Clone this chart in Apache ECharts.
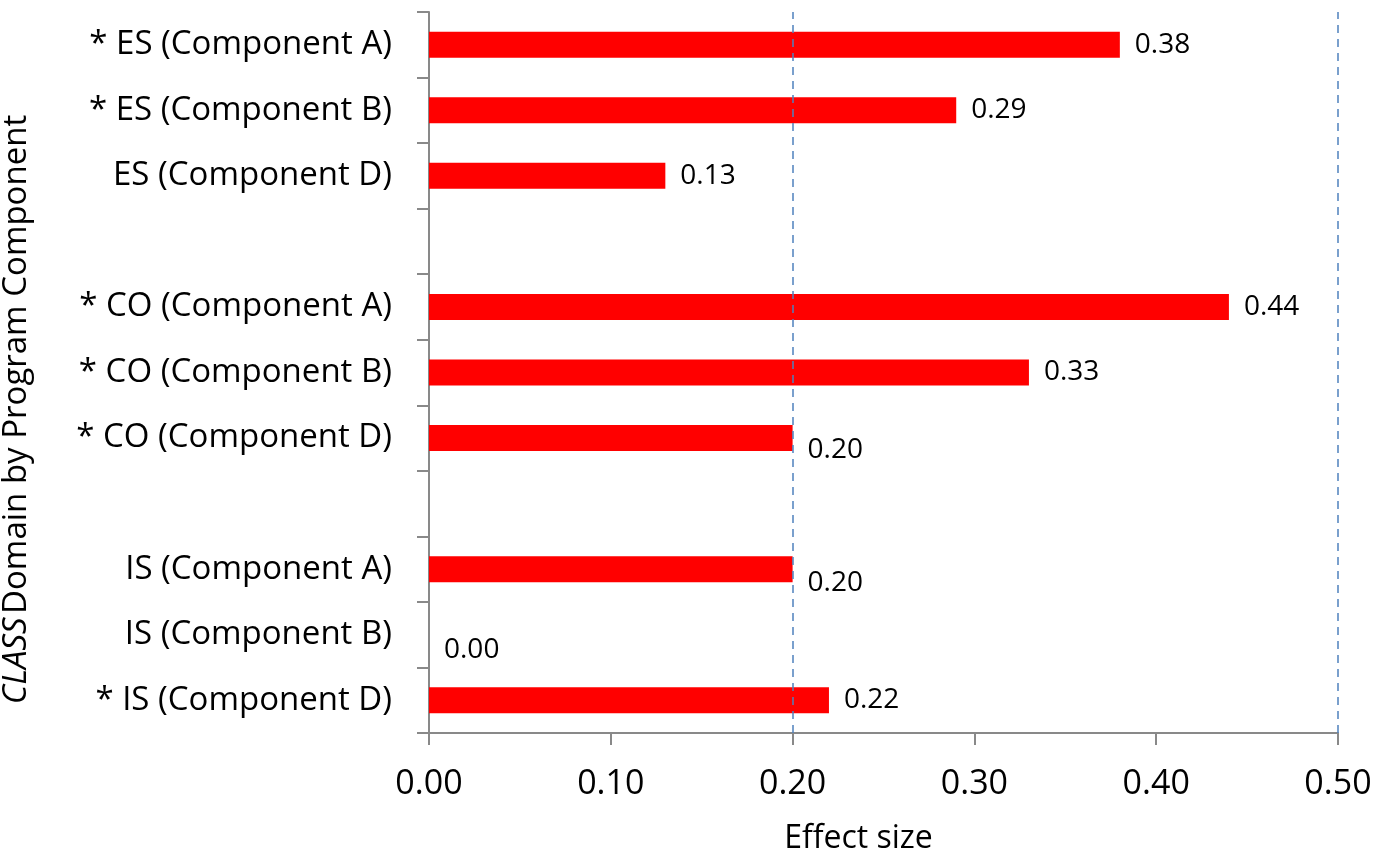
<!DOCTYPE html>
<html><head><meta charset="utf-8">
<script src="https://cdn.jsdelivr.net/npm/echarts@6/dist/echarts.min.js"></script>
<style>html,body{margin:0;padding:0;background:#fff}#c{width:1377px;height:855px}</style>
</head><body><div id="c"></div>
<script>
const categories = ['* ES (Component A)','* ES (Component B)','ES (Component D)','',
  '* CO (Component A)','* CO (Component B)','* CO (Component D)','',
  'IS (Component A)','IS (Component B)','* IS (Component D)'];
const values = [0.38,0.29,0.13,null,0.44,0.33,0.20,null,0.20,0.00,0.22];
const xTicks = [0,0.1,0.2,0.3,0.4,0.5];
const refLines = [0.2,0.5];

const FONT = 'Open Sans';
// Excel nudged some labels downward where they touched the reference line
const labelNudge = {6:12, 8:14, 9:15};

const cats = categories.slice().reverse();
const vals = values.slice().reverse();
const n = values.length;
const seriesData = vals.map((v,i)=>{
  const orig = n-1-i;
  const d = {value: v};
  if (labelNudge[orig]) d.label = {offset:[0, labelNudge[orig]]};
  return d;
});

const chart = echarts.init(document.getElementById('c'));
chart.setOption({
  animation:false,
  grid:{left:429,right:39,top:12,bottom:122,containLabel:false,outerBoundsMode:'none'},
  xAxis:{type:'value',min:xTicks[0],max:xTicks[xTicks.length-1],interval:0.1,
    axisLine:{show:true,lineStyle:{color:'#898989',width:2}},
    axisTick:{show:true,length:12,lineStyle:{color:'#898989',width:2}},
    splitLine:{show:false},
    axisLabel:{margin:34,fontFamily:FONT,fontSize:34,color:'#000',formatter:v=>v.toFixed(2)},
    name:'Effect size',nameLocation:'middle',nameGap:90,
    nameTextStyle:{fontFamily:FONT,fontSize:32,color:'#000',padding:[0,50,0,0]}
  },
  yAxis:{type:'category',data:cats,
    axisLine:{show:true,lineStyle:{color:'#898989',width:2}},
    axisTick:{show:true,length:12,alignWithLabel:false,lineStyle:{color:'#898989',width:2}},
    axisLabel:{margin:37,fontFamily:FONT,fontSize:33,color:'#000'},
    name:'{i|CLASS} {n|Domain by Program Component}',nameLocation:'middle',nameGap:396,nameRotate:90,
    nameTextStyle:{padding:[0,74,0,0],rich:{i:{fontFamily:FONT,fontSize:33,fontStyle:'italic',color:'#000'},
      n:{fontFamily:FONT,fontSize:33,color:'#000'}}}
  },
  series:[{type:'bar',data:seriesData,barWidth:26,itemStyle:{color:'#FF0000'},
    label:{show:true,position:'right',distance:15,fontFamily:FONT,fontSize:28,color:'#000',
      formatter:p=>p.value==null?'':p.value.toFixed(2)},
    markLine:{silent:true,symbol:'none',label:{show:false},
      lineStyle:{color:'#4F81BD',type:[8,6],width:1.5},
      data:refLines.map(v=>({xAxis:v}))}
  }]
});
</script></body></html>
